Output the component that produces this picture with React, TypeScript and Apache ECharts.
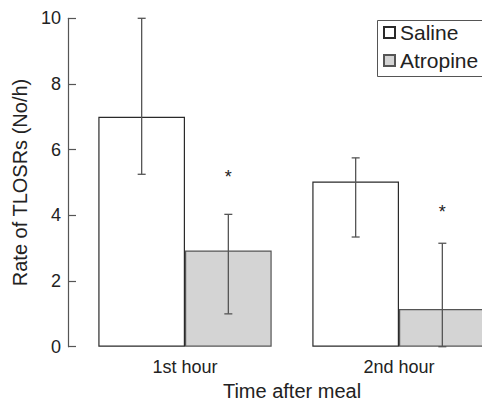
import React, { useEffect, useRef } from "react";
import * as echarts from "echarts";

const categories = ["1st hour", "2nd hour"];
const salineMean = [7.0, 5.03];
const salineLow = [5.25, 3.34];
const salineHigh = [10.0, 5.75];
const atropineMean = [2.93, 1.15];
const atropineLow = [1.0, 0.0];
const atropineHigh = [4.03, 3.15];
const asteriskLevel = [5.28, 4.21];
const yTicks = { min: 0, max: 10, interval: 2 };

const FONT = "'Liberation Sans', Arial, Helvetica, sans-serif";
const GAP = 0.19;

export default function App() {
  const ref = useRef<HTMLDivElement>(null);
  useEffect(() => {
    if (!ref.current) return;
    const chart = echarts.init(ref.current, null, { renderer: "svg" });

    const errData: number[][] = [];
    categories.forEach((_, i) => {
      errData.push([i, salineLow[i], salineHigh[i], -1]);
      errData.push([i, atropineLow[i], atropineHigh[i], 1]);
    });
    const starData = categories.map((_, i) => [i, asteriskLevel[i]]);

    const option: any = {
      animation: false,
      textStyle: { fontFamily: FONT },
      grid: {
        left: 78,
        top: 18.3,
        width: 428,
        height: 328.4,
        containLabel: false,
        outerBoundsMode: "none",
      },
      graphic: [
        {
          type: "rect",
          left: 375,
          top: 18,
          shape: { width: 130, height: 56 },
          style: { fill: "none", stroke: "#555", lineWidth: 1 },
          silent: true,
          z: 100,
        },
      ],
      legend: {
        data: ["Saline", "Atropine"],
        orient: "vertical",
        left: 375,
        top: 18,
        padding: [4, 2, 4.5, 8],
        itemGap: 7,
        itemWidth: 11,
        itemHeight: 11,
        icon: "rect",
        textStyle: { fontSize: 21, color: "#222", fontFamily: FONT },
      },
      xAxis: {
        type: "category",
        data: categories,
        name: "Time after meal",
        nameLocation: "middle",
        nameGap: 33,
        nameTextStyle: { fontSize: 20, color: "#222", fontFamily: FONT },
        axisLine: { show: false },
        axisTick: { show: false },
        axisLabel: { fontSize: 18, color: "#222", margin: 11, fontFamily: FONT },
      },
      yAxis: {
        type: "value",
        min: yTicks.min,
        max: yTicks.max,
        interval: yTicks.interval,
        offset: 10,
        name: "Rate of TLOSRs (No/h)",
        nameLocation: "middle",
        nameGap: 34.5,
        nameTextStyle: { fontSize: 20, color: "#222", fontFamily: FONT },
        axisLine: { show: true, lineStyle: { color: "#555", width: 1.2 } },
        axisTick: { show: true, inside: true, length: 8, lineStyle: { color: "#555", width: 1.2 } },
        axisLabel: { fontSize: 18, color: "#222", margin: 7, fontFamily: FONT },
        splitLine: { show: false },
      },
      series: [
        {
          name: "Saline",
          type: "bar",
          data: salineMean,
          barGap: "0%",
          barCategoryGap: GAP * 100 + "%",
          itemStyle: { color: "#ffffff", borderColor: "#2a2a2a", borderWidth: 1.2 },
        },
        {
          name: "Atropine",
          type: "bar",
          data: atropineMean,
          barGap: "0%",
          barCategoryGap: GAP * 100 + "%",
          itemStyle: { color: "#d4d4d4", borderColor: "#555", borderWidth: 1.2 },
        },
        {
          name: "err",
          type: "custom",
          data: errData,
          z: 10,
          clip: false,
          renderItem: (params: any, api: any) => {
            const cat = api.value(0);
            const lo = api.value(1);
            const hi = api.value(2);
            const side = api.value(3);
            const band = api.size([1, 0])[0];
            const bw = (band * (1 - GAP)) / 2;
            const pLo = api.coord([cat, lo]);
            const pHi = api.coord([cat, hi]);
            const x = pLo[0] + (side * bw) / 2;
            const cap = 4;
            const st = { stroke: "#555", lineWidth: 1.3 };
            return {
              type: "group",
              children: [
                { type: "line", shape: { x1: x, y1: pLo[1], x2: x, y2: pHi[1] }, style: st },
                { type: "line", shape: { x1: x - cap, y1: pLo[1], x2: x + cap, y2: pLo[1] }, style: st },
                { type: "line", shape: { x1: x - cap, y1: pHi[1], x2: x + cap, y2: pHi[1] }, style: st },
              ],
            };
          },
        },
        {
          name: "sig",
          type: "custom",
          data: starData,
          z: 10,
          clip: false,
          renderItem: (params: any, api: any) => {
            const cat = api.value(0);
            const lvl = api.value(1);
            const band = api.size([1, 0])[0];
            const bw = (band * (1 - GAP)) / 2;
            const p = api.coord([cat, lvl]);
            return {
              type: "text",
              x: p[0] + bw / 2,
              y: p[1] + 4,
              style: {
                text: "*",
                fontSize: 18,
                fontFamily: FONT,
                fill: "#222",
                align: "center",
                verticalAlign: "middle",
              },
            };
          },
        },
      ],
    };
    chart.setOption(option);
    return () => chart.dispose();
  }, []);
  return (
    <div
      ref={ref}
      style={{ position: "absolute", left: 0, top: 0, width: 482, height: 401, overflow: "hidden" }}
    />
  );
}
